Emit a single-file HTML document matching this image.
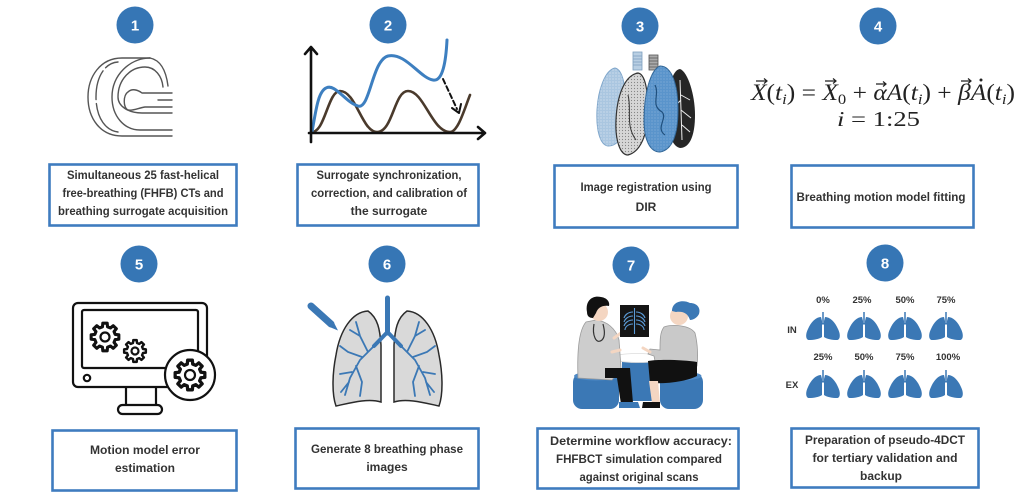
<!DOCTYPE html>
<html><head><meta charset="utf-8"><style>
html,body{margin:0;padding:0;background:#fff;}
svg{display:block;}
.bt{font-family:"Liberation Sans",sans-serif;font-weight:bold;font-size:12px;fill:#333;}
.num{font-family:"Liberation Sans",sans-serif;font-weight:bold;font-size:15px;fill:#fff;}
.pl{font-family:"Liberation Sans",sans-serif;font-weight:bold;font-size:9.5px;fill:#333;}
.eq{font-family:"Liberation Serif",serif;fill:#222;}
</style></head><body>
<svg width="1024" height="499" viewBox="0 0 1024 499" xmlns="http://www.w3.org/2000/svg">
<defs>
  <polygon id="gear" points="7.28,-1.81 9.88,-1.56 9.88,1.56 7.28,1.81 6.43,3.86 8.09,5.88 5.88,8.09 3.86,6.43 1.81,7.28 1.56,9.88 -1.56,9.88 -1.81,7.28 -3.86,6.43 -5.88,8.09 -8.09,5.88 -6.43,3.86 -7.28,1.81 -9.88,1.56 -9.88,-1.56 -7.28,-1.81 -6.43,-3.86 -8.09,-5.88 -5.88,-8.09 -3.86,-6.43 -1.81,-7.28 -1.56,-9.88 1.56,-9.88 1.81,-7.28 3.86,-6.43 5.88,-8.09 8.09,-5.88 6.43,-3.86"/>
  <g id="lung">
    <path d="M16,5 C11,5 6,10 3,17 C0,23 1,28 4,28 C9,28 14,27 17,25 L17,9 Z" fill="#3b78b5"/>
    <path d="M20,5 C25,5 30,10 33,17 C36,23 35,28 32,28 C27,28 22,27 19,25 L19,9 Z" fill="#3b78b5"/>
    <line x1="18" y1="0" x2="18" y2="12" stroke="#3b78b5" stroke-width="1.5"/>
    <path d="M18,11 L15.5,14 M18,11 L20.5,14" stroke="#3b78b5" stroke-width="1.2" fill="none"/>
  </g>
  <pattern id="dots" width="3" height="3" patternUnits="userSpaceOnUse">
    <circle cx="1" cy="1" r="0.6" fill="#fff" fill-opacity="0.55"/>
  </pattern>
  <pattern id="dotsd" width="3" height="3" patternUnits="userSpaceOnUse">
    <circle cx="1.5" cy="1.5" r="0.6" fill="#333" fill-opacity="0.5"/>
  </pattern>
</defs>
<rect width="1024" height="499" fill="#fff"/>

<!-- number circles -->
<g fill="#3676b5">
  <circle cx="135" cy="25" r="18.5"/>
  <circle cx="388" cy="25" r="18.5"/>
  <circle cx="640" cy="26" r="18.5"/>
  <circle cx="878" cy="26" r="18.5"/>
  <circle cx="139" cy="264" r="18.5"/>
  <circle cx="387" cy="264" r="18.5"/>
  <circle cx="631" cy="265" r="18.5"/>
  <circle cx="885" cy="263" r="18.5"/>
</g>
<g class="num" text-anchor="middle">
  <text x="135" y="30.5">1</text>
  <text x="388" y="30.5">2</text>
  <text x="640" y="31.5">3</text>
  <text x="878" y="31.5">4</text>
  <text x="139" y="269.5">5</text>
  <text x="387" y="269.5">6</text>
  <text x="631" y="270.5">7</text>
  <text x="885" y="268.5">8</text>
</g>

<!-- boxes -->
<g fill="#fff" stroke="#3f7cbf" stroke-width="2.6">
  <rect x="49.5" y="164.5" width="187" height="61"/>
  <rect x="297.5" y="164.5" width="181" height="61"/>
  <rect x="554.5" y="165.5" width="183" height="62"/>
  <rect x="791.5" y="165.5" width="182" height="62"/>
  <rect x="52.5" y="430.5" width="184" height="60"/>
  <rect x="295.5" y="428.5" width="183" height="60"/>
  <rect x="537.5" y="428.5" width="201" height="60"/>
  <rect x="791.5" y="428.5" width="187" height="59"/>
</g>

<!-- box texts -->
<g class="bt" text-anchor="middle">
  <text x="143" y="179" textLength="152" lengthAdjust="spacingAndGlyphs">Simultaneous 25 fast-helical</text>
  <text x="143" y="197" textLength="161" lengthAdjust="spacingAndGlyphs">free-breathing (FHFB) CTs and</text>
  <text x="143" y="215" textLength="170" lengthAdjust="spacingAndGlyphs">breathing surrogate acquisition</text>

  <text x="389" y="179" textLength="145" lengthAdjust="spacingAndGlyphs">Surrogate synchronization,</text>
  <text x="389" y="197" textLength="156" lengthAdjust="spacingAndGlyphs">correction, and calibration of</text>
  <text x="389" y="215">the surrogate</text>

  <text x="646" y="191" textLength="131" lengthAdjust="spacingAndGlyphs">Image registration using</text>
  <text x="646" y="211">DIR</text>

  <text x="881" y="201" textLength="169" lengthAdjust="spacingAndGlyphs">Breathing motion model fitting</text>

  <text x="145" y="454" textLength="110" lengthAdjust="spacingAndGlyphs">Motion model error</text>
  <text x="145" y="472">estimation</text>

  <text x="387" y="453" textLength="152" lengthAdjust="spacingAndGlyphs">Generate 8 breathing phase</text>
  <text x="387" y="471">images</text>

  <text x="641" y="445" textLength="182" lengthAdjust="spacingAndGlyphs">Determine workflow accuracy:</text>
  <text x="639" y="463" textLength="166" lengthAdjust="spacingAndGlyphs">FHFBCT simulation compared</text>
  <text x="639" y="481" textLength="119" lengthAdjust="spacingAndGlyphs">against original scans</text>

  <text x="885" y="444" textLength="160" lengthAdjust="spacingAndGlyphs">Preparation of pseudo-4DCT</text>
  <text x="885" y="462" textLength="145" lengthAdjust="spacingAndGlyphs">for tertiary validation and</text>
  <text x="881" y="480">backup</text>
</g>

<!-- ICON 1: CT scanner -->
<g fill="none" stroke="#555" stroke-width="1.4" stroke-linecap="round">
  <path d="M150,58 L122,58 C100,58 88,77 88,97 C88,118 100,136 122,136 L172,136"/>
  <path d="M118,62 C103,63 96,80 96,97 C96,114 103,130 118,132" stroke-dasharray="14 4 30 4 40"/>
  <path d="M150,58 C130,58 112,75 112,97 C112,116 124,130 140,130 L172,130"/>
  <path d="M172,113 L142,113 C128,113 118,106 118,97 C118,80 130,67 145,67 C155,67 162,76 163,87"/>
  <path d="M150,58 C160,60 166,70 168,86"/>
  <path d="M172,93 L142,93 C138,90 132,88 128,92 C123,95 123,108 128,110 C134,111 138,108 145,107 L172,107"/>
  <path d="M158,100 L172,100"/>
</g>

<!-- ICON 2: graph -->
<g fill="none" stroke-linecap="round" stroke-linejoin="round">
  <path d="M312,132 C325,132 328,91 340,91 C356,91 362,132 377,132 C393,132 394,91 408,91 C424,91 432,132 450,132 C458,132 464,110 470,95" stroke="#4a3a2c" stroke-width="2.6"/>
  <path d="M312,132 C316,110 318,92 326,88 C335,83 345,102 358,106 C370,110 372,60 388,56 C405,52 420,78 433,80 C443,82 446,60 447,40" stroke="#3d7fc0" stroke-width="3"/>
  <path d="M311,142 L311,47 M305,54 L311,47 L317,54" stroke="#111" stroke-width="2.6"/>
  <path d="M309,133 L485,133 M478,127 L485,133 L478,139" stroke="#111" stroke-width="2.6"/>
  <path d="M443,79 L457,109" stroke="#111" stroke-width="2" stroke-dasharray="5 3"/>
  <path d="M452,108 L459,113 L461,104" stroke="#111" stroke-width="2"/>
</g>

<!-- ICON 3: lungs -->
<g>
  <rect x="633" y="52" width="9" height="18" fill="#b9cfe3" stroke="#7d9fbf" stroke-width="0.8"/>
  <path d="M633,56 H642 M633,59 H642 M633,62 H642 M633,65 H642" stroke="#7d9fbf" stroke-width="0.8"/>
  <rect x="649" y="55" width="9" height="15" fill="#aaa" stroke="#555" stroke-width="0.8"/>
  <path d="M649,58 H658 M649,61 H658 M649,64 H658 M649,67 H658" stroke="#555" stroke-width="0.8"/>
  <path d="M615,68 C605,70 598,90 597,110 C596,130 600,145 608,146 C618,146 626,135 626,115 C626,90 624,70 615,68 Z" fill="#aac6e0" stroke="#7fa6cb" stroke-width="1"/>
  <path d="M615,68 C605,70 598,90 597,110 C596,130 600,145 608,146 C618,146 626,135 626,115 C626,90 624,70 615,68 Z" fill="url(#dots)"/>
  <path d="M638,73 C625,75 617,95 616,120 C615,140 620,155 628,155 C640,152 648,135 648,110 C648,90 645,74 638,73 Z" fill="#d6d6d6" stroke="#333" stroke-width="1.2"/>
  <path d="M638,73 C625,75 617,95 616,120 C615,140 620,155 628,155 C640,152 648,135 648,110 C648,90 645,74 638,73 Z" fill="url(#dotsd)"/>
  <path d="M680,69 C688,72 695,95 695,115 C695,135 690,148 680,148 C672,146 668,135 668,110 C668,88 672,70 680,69 Z" fill="#262626"/>
  <path d="M680,80 L682,140 M681,95 L690,100 M681,110 L691,118 M682,125 L690,132 M681,100 L673,108" stroke="#eee" stroke-width="1" fill="none"/>
  <path d="M660,66 C650,70 644,95 644,120 C644,140 650,152 660,152 C672,150 678,135 678,110 C678,85 672,66 660,66 Z" fill="#5a94cb" stroke="#2f6597" stroke-width="1"/>
  <path d="M660,66 C650,70 644,95 644,120 C644,140 650,152 660,152 C672,150 678,135 678,110 C678,85 672,66 660,66 Z" fill="url(#dots)" opacity="0.5"/>
  <path d="M655,85 C660,95 650,105 662,112 C668,118 655,128 665,135" stroke="#1f4f7d" stroke-width="1.2" fill="none"/>
  <path d="M628,95 C632,110 625,125 636,140" stroke="#333" stroke-width="1" fill="none"/>
</g>

<!-- ICON 4: equation -->
<g class="eq">
  <text x="751" y="100" font-size="23" textLength="264" lengthAdjust="spacingAndGlyphs"><tspan font-style="italic">X</tspan>(<tspan font-style="italic">t</tspan><tspan font-style="italic" font-size="15" dy="4">i</tspan><tspan dy="-4">) = </tspan><tspan font-style="italic">X</tspan><tspan font-size="15" dy="4">0</tspan><tspan dy="-4"> + </tspan><tspan font-style="italic">αA</tspan>(<tspan font-style="italic">t</tspan><tspan font-style="italic" font-size="15" dy="4">i</tspan><tspan dy="-4">) + </tspan><tspan font-style="italic">βA</tspan>(<tspan font-style="italic">t</tspan><tspan font-style="italic" font-size="15" dy="4">i</tspan><tspan dy="-4">)</tspan></text>
  <text x="837" y="126" font-size="21" textLength="83" lengthAdjust="spacingAndGlyphs"><tspan font-style="italic">i</tspan> = 1:25</text>
</g>
<g stroke="#222" stroke-width="1.2" fill="none">
  <path d="M756,81 H767 M764,78.5 L767,81 L764,83.5"/>
  <path d="M825,81 H836 M833,78.5 L836,81 L833,83.5"/>
  <path d="M876,84 H886 M883,81.5 L886,84 L883,86.5"/>
  <path d="M961,81 H971 M968,78.5 L971,81 L968,83.5"/>
</g>
<circle cx="981" cy="80" r="1.5" fill="#222"/>

<!-- ICON 5: monitor -->
<g fill="none" stroke="#111" stroke-width="2.2" stroke-linejoin="round">
  <rect x="73" y="303" width="134" height="84" rx="5"/>
  <rect x="82" y="310" width="116" height="58" rx="2"/>
  <circle cx="87" cy="378" r="3.2"/>
  <path d="M126,387 V405 M156,387 V405"/>
  <rect x="118" y="405" width="44" height="9" rx="4.5"/>
  <use href="#gear" transform="translate(105,337) scale(1.4)" vector-effect="non-scaling-stroke"/>
  <circle cx="105" cy="337" r="4.5"/>
  <use href="#gear" transform="translate(135,351) scale(1.1)" vector-effect="non-scaling-stroke"/>
  <circle cx="135" cy="351" r="3.5"/>
  <circle cx="190" cy="375" r="25" fill="#fff"/>
  <use href="#gear" transform="translate(190,375) scale(1.5)" vector-effect="non-scaling-stroke"/>
  <circle cx="190" cy="375" r="5"/>
</g>

<!-- ICON 6: lungs with tree -->
<g>
  <path d="M368,311 C352,312 340,330 336,355 C332,375 332,395 336,406 C350,403 368,398 381,402 L381,345 C380,330 378,318 368,311 Z" fill="#d9d9d9" stroke="#2a2a2a" stroke-width="1.5"/>
  <path d="M407,311 C423,312 435,330 439,355 C443,375 443,395 439,406 C425,403 407,398 394,402 L394,345 C395,330 397,318 407,311 Z" fill="#d9d9d9" stroke="#2a2a2a" stroke-width="1.5"/>
  <g stroke="#3b78b5" fill="none" stroke-linecap="round">
    <path d="M387.5,298 V333" stroke-width="5"/>
    <path d="M387.5,332 L374,346 M387.5,332 L401,346" stroke-width="4"/>
    <path d="M375,345 L360,360 L350,378 L345,395 M368,352 L360,336 L356,322 M362,357 L348,352 L340,346 M356,366 L362,382 L360,396 M352,372 L340,374 M349,382 L341,392 M360,336 L350,330" stroke-width="1.8"/>
    <path d="M400,345 L415,360 L425,378 L430,395 M407,352 L415,336 L419,322 M413,357 L427,352 L435,346 M419,366 L413,382 L415,396 M423,372 L435,374 M426,382 L434,392 M415,336 L425,330" stroke-width="1.8"/>
  </g>
  <line x1="311" y1="306" x2="331" y2="324" stroke="#3b78b5" stroke-width="7" stroke-linecap="round"/>
  <polygon points="328.7,326.6 333.3,321.4 338,330.5" fill="#3b78b5"/>
</g>

<!-- ICON 7: consultation scene -->
<g>
  <rect x="573" y="373" width="46" height="36" rx="9" fill="#3b78b5"/>
  <ellipse cx="596" cy="376" rx="22" ry="4.5" fill="#4d89c6"/>
  <rect x="660" y="373" width="43" height="36" rx="9" fill="#3b78b5"/>
  <ellipse cx="681.5" cy="376" rx="20" ry="4.5" fill="#4d89c6"/>
  <rect x="622" y="359" width="34" height="42" fill="#3b78b5"/>
  <ellipse cx="638" cy="358" rx="26" ry="4.5" fill="#fff" stroke="#ddd" stroke-width="0.8"/>
  <!-- doctor -->
  <path d="M586,322 C579,330 577,352 578,378 L612,380 L621,368 L619,340 C616,328 606,321 596,320 Z" fill="#cdcdcd" stroke="#9a9a9a" stroke-width="0.8"/>
  <path d="M605,368 L630,368 L633,403 L621,404 L617,378 L605,378 Z" fill="#111"/>
  <path d="M619,402 L638,402 L640,408 L619,408 Z" fill="#3b78b5"/>
  <circle cx="599" cy="312" r="9" fill="#f4d6c2"/>
  <path d="M587,312 C585,300 593,295 601,297 C608,298 610,303 609,306 C603,305 598,307 596,313 L593,318 C589,318 587,316 587,312 Z" fill="#111"/>
  <path d="M594,324 C592,335 596,345 602,340 C606,336 604,328 603,324" stroke="#333" stroke-width="1.2" fill="none"/>
  <path d="M614,338 L621,333" stroke="#f4d6c2" stroke-width="3" stroke-linecap="round"/>
  <path d="M612,352 L620,350" stroke="#f4d6c2" stroke-width="3" stroke-linecap="round"/>
  <!-- xray -->
  <rect x="620" y="305" width="29" height="32" fill="#151515"/>
  <g stroke="#5a9ad6" stroke-width="1.1" fill="none">
    <path d="M634.5,308 V334"/>
    <path d="M633,312 C628,312 625,315 624,318 M633,316 C628,316 625,319 624,322 M633,320 C628,320 625,323 624,326 M633,324 C628,324 625,327 625,330"/>
    <path d="M636,312 C641,312 644,315 645,318 M636,316 C641,316 644,319 645,322 M636,320 C641,320 644,323 645,326 M636,324 C641,324 644,327 644,330"/>
  </g>
  <!-- patient -->
  <path d="M664,327 C672,324 690,325 695,333 C698,345 698,358 697,366 L656,366 L654,356 L648,354 L650,349 L660,350 C660,340 660,332 664,327 Z" fill="#c9c9c9" stroke="#9a9a9a" stroke-width="0.8"/>
  <path d="M648,361 C660,359 685,360 697,362 L697,376 C685,382 665,384 650,383 Z" fill="#111"/>
  <path d="M649,381 L658,381 L660,403 L652,403 Z" fill="#f4d6c2"/>
  <path d="M643,402 L660,402 L660,408 L642,408 Z" fill="#111"/>
  <circle cx="679" cy="316" r="9" fill="#f4d6c2"/>
  <path d="M672,311 C672,302 682,299 690,303 C697,303 701,308 699,314 C697,318 693,320 690,320 C688,314 684,311 676,312 Z" fill="#3b78b5"/>
  <path d="M650,352 L643,348" stroke="#f4d6c2" stroke-width="3" stroke-linecap="round"/>
</g>

<!-- ICON 8: lung grid -->
<g class="pl" text-anchor="middle">
  <text x="823" y="303">0%</text>
  <text x="862" y="303">25%</text>
  <text x="905" y="303">50%</text>
  <text x="946" y="303">75%</text>
  <text x="823" y="360">25%</text>
  <text x="864" y="360">50%</text>
  <text x="905" y="360">75%</text>
  <text x="948" y="360">100%</text>
  <text x="792" y="333">IN</text>
  <text x="792" y="388">EX</text>
</g>
<use href="#lung" x="805" y="312"/>
<use href="#lung" x="846" y="312"/>
<use href="#lung" x="887" y="312"/>
<use href="#lung" x="928" y="312"/>
<use href="#lung" x="805" y="370"/>
<use href="#lung" x="846" y="370"/>
<use href="#lung" x="887" y="370"/>
<use href="#lung" x="928" y="370"/>
</svg>
</body></html>
